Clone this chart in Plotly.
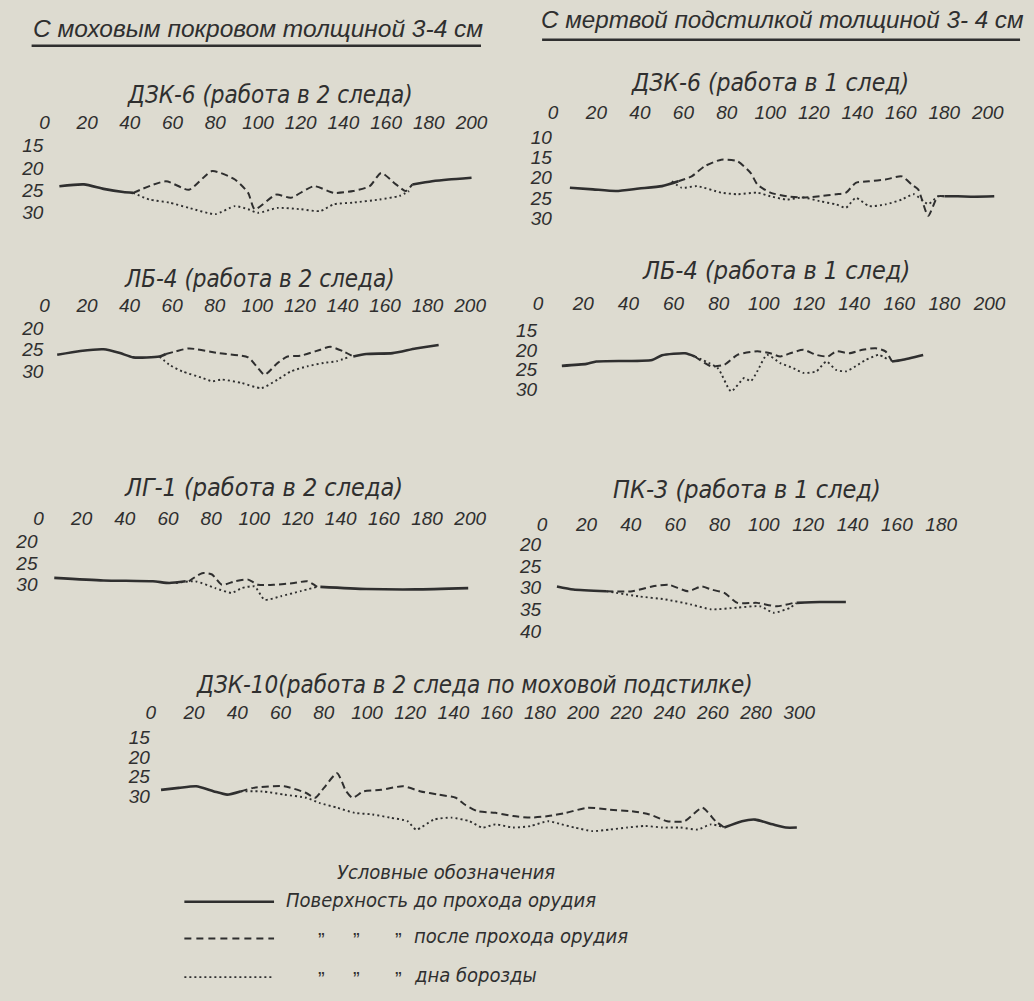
import plotly.graph_objects as go

W, H = 1034, 1001
INK = "#2f2f2f"
PAPER = "#dddbd0"
NARROW = "Liberation Sans Narrow, DejaVu Sans Condensed, Arial Narrow, sans-serif"
REG = "Liberation Sans, Arial, sans-serif"

# ---------------- data (distance, cm depth) ----------------
# Panel A: ДЗК-6, 2 следа, моховой покров
a_solid1_x = [7, 18.5, 27.7, 36.9, 41.5]
a_solid1_y = [24.1, 23.7, 24.7, 25.4, 25.6]
a_dash_x = [41.5, 56.9, 67.7, 78.5, 89.2, 95.4, 98.5, 108.5, 115.4, 126.2, 135.4, 144.6, 152.3, 157.7, 164.6, 169.2, 172.3]
a_dash_y = [25.6, 23.0, 24.9, 20.7, 22.6, 25.6, 29.3, 26.0, 26.7, 24.1, 25.6, 25.2, 24.1, 21.1, 23.7, 25.2, 23.7]
a_dot_x = [41.5, 49.2, 58.5, 67.7, 80, 89.2, 95.4, 100, 109.2, 120, 129.2, 135.4, 144.6, 156.9, 166.2, 170.8]
a_dot_y = [25.6, 27.1, 27.8, 29.0, 30.4, 28.6, 29.3, 30.1, 29.0, 29.3, 29.7, 28.2, 27.8, 27.1, 26.3, 25.2]
a_solid2_x = [172.3, 181.5, 189.2, 200]
a_solid2_y = [23.7, 23.0, 22.6, 22.2]

# Panel B: ДЗК-6, 1 след, мертвая подстилка
b_solid1_x = [7.8, 18.4, 29.0, 39.6, 50.2, 57.7]
b_solid1_y = [22.5, 22.9, 23.3, 22.7, 22.1, 20.9]
b_dash_x = [57.7, 63.8, 69.8, 77.4, 84.9, 91.0, 94.0, 100.0, 107.6, 115.1, 122.7, 130.2, 134.8, 139.3, 145.4, 152.9, 160.5, 165.0, 168.0, 172.6, 177.1, 180.1]
b_dash_y = [20.9, 19.7, 17.2, 15.6, 16.0, 18.9, 21.7, 23.7, 24.6, 24.9, 24.6, 24.1, 23.7, 21.3, 20.9, 20.5, 19.7, 21.7, 22.9, 29.4, 24.6, 24.6]
b_dot_x = [54.7, 59.2, 66.3, 77.4, 84.9, 94.0, 100.0, 107.6, 115.1, 122.7, 130.2, 134.8, 139.3, 145.4, 152.9, 160.5, 166.0, 172.6, 177.1, 180.1]
b_dot_y = [20.9, 22.5, 22.1, 23.7, 24.1, 23.7, 24.6, 25.4, 24.9, 25.8, 26.6, 27.4, 25.0, 27.0, 26.6, 25.4, 24.1, 26.5, 24.6, 24.6]
b_solid2_x = [180.1, 186.2, 193.7, 203]
b_solid2_y = [24.6, 24.6, 24.7, 24.6]

# Panel C: ЛБ-4, 2 следа
c_solid1_x = [6.0, 16.9, 27.8, 35.5, 41.7, 54.0, 57.1]
c_solid1_y = [26.2, 25.3, 24.9, 25.8, 26.8, 26.6, 26.0]
c_dash_x = [57.1, 61.7, 67.9, 81.8, 95.7, 100.3, 103.4, 109.6, 114.2, 120.4, 129.6, 134.3, 140.4, 145.1]
c_dash_y = [26.0, 25.4, 24.7, 25.8, 26.8, 29.3, 30.9, 28.1, 26.6, 26.4, 25.0, 24.3, 25.4, 26.6]
c_dot_x = [54.0, 58.6, 64.8, 74.1, 78.7, 83.3, 92.6, 101.9, 109.6, 115.7, 123.5, 131.2, 137.3, 143.5]
c_dot_y = [26.6, 28.5, 30.1, 31.6, 32.4, 32.0, 32.8, 34.0, 32.0, 30.1, 28.9, 28.1, 27.7, 26.6]
c_solid2_x = [145.1, 151.2, 163.6, 174.4, 185.2]
c_solid2_y = [26.6, 26.0, 25.8, 24.7, 23.9]

# Panel D: ЛБ-4, 1 след
d_solid1_x = [10.5, 21.4, 25.8, 50.5, 54.9, 65.1, 69.4]
d_solid1_y = [24.0, 23.5, 22.9, 22.5, 21.3, 20.8, 21.6]
d_dash_x = [69.4, 76.7, 82.5, 88.3, 97.1, 102.9, 107.3, 111.7, 117.5, 123.3, 128.4, 132.0, 137.9, 143.7, 149.5, 153.9, 156.8]
d_dash_y = [21.6, 24.1, 23.7, 21.2, 20.3, 20.8, 21.6, 20.8, 19.9, 21.2, 21.6, 20.3, 20.8, 19.9, 19.5, 20.3, 22.9]
d_dot_x = [69.4, 79.6, 85.5, 91.3, 94.2, 97.1, 101.4, 107.3, 113.1, 117.5, 123.3, 127.7, 132.0, 136.4, 140.7, 145.1, 150.9, 155.3]
d_dot_y = [21.6, 24.6, 30.5, 27.1, 27.9, 25.4, 21.2, 23.3, 24.6, 25.8, 25.4, 22.9, 25.0, 25.4, 24.1, 22.5, 21.2, 22.5]
d_solid2_x = [156.8, 161.1, 170.6]
d_solid2_y = [22.9, 22.5, 21.2]

# Panel E: ЛГ-1, 2 следа
e_solid1_x = [7.3, 30.1, 53.0, 60.6, 68.2]
e_solid1_y = [28.5, 29.1, 29.3, 29.7, 29.3]
e_dash_x = [69.7, 75.8, 80.4, 84.9, 91.0, 97.1, 101.7, 109.3, 118.4, 124.5, 129.1]
e_dash_y = [29.3, 27.4, 27.7, 30.1, 29.3, 28.9, 30.1, 30.1, 29.7, 29.3, 30.6]
e_dot_x = [63.6, 72.7, 81.9, 89.5, 94.1, 100.1, 104.7, 112.3, 121.5, 129.1]
e_dot_y = [29.7, 29.3, 30.9, 32.0, 30.9, 30.5, 33.6, 32.8, 31.6, 30.6]
e_solid2_x = [130.6, 151.9, 174.7, 199.1]
e_solid2_y = [30.6, 31.1, 31.2, 30.9]

# Panel F: ПК-3, 1 след
f_solid1_x = [6.7, 14.1, 28.9]
f_solid1_y = [29.7, 30.4, 30.8]
f_dash_x = [28.9, 40.7, 49.6, 57.0, 65.9, 71.9, 76.3, 82.2, 88.1, 97.0, 105.9, 113.3]
f_dash_y = [30.8, 30.8, 29.7, 29.3, 30.8, 29.7, 30.4, 31.2, 33.5, 33.5, 34.3, 33.5]
f_dot_x = [28.9, 43.7, 55.6, 67.4, 76.3, 88.1, 98.5, 104.4, 111.9, 114.8]
f_dot_y = [30.8, 32.0, 32.7, 33.9, 35.0, 34.6, 34.3, 35.8, 34.6, 33.5]
f_solid2_x = [114.8, 125.2, 137.0]
f_solid2_y = [33.5, 33.3, 33.3]

# Panel G: ДЗК-10, 2 следа по моховой подстилке
g_solid1_x = [4.7, 12.9, 21.0, 29.2, 35.3, 41.4]
g_solid1_y = [28.3, 27.8, 27.4, 28.7, 29.5, 28.7]
g_dash_x = [41.4, 47.5, 61.7, 71.9, 76.0, 80.1, 86.2, 90.2, 93.3, 98.4, 106.5, 116.7, 124.9, 133.0, 141.1, 145.2, 151.3, 159.5, 167.6, 175.8, 183.9, 192.0, 202.2, 212.4, 222.6, 230.7, 238.9, 247.0, 255.2, 261.3, 265.3]
g_dash_y = [28.7, 27.8, 27.4, 29.1, 30.3, 27.8, 24.1, 28.5, 30.3, 28.7, 28.3, 27.4, 28.7, 29.5, 30.3, 32.0, 33.7, 34.1, 34.9, 35.3, 34.9, 34.1, 32.8, 33.3, 33.7, 34.5, 36.2, 36.2, 32.8, 36.2, 37.8]
g_dot_x = [41.4, 51.6, 61.7, 71.9, 78.0, 86.2, 94.3, 102.5, 110.6, 118.7, 122.8, 131.0, 139.1, 147.3, 153.4, 159.5, 167.6, 175.8, 183.9, 190.0, 196.1, 204.3, 212.4, 220.5, 228.7, 236.8, 245.0, 253.1, 259.2, 265.3]
g_dot_y = [28.7, 28.7, 29.5, 30.3, 31.6, 32.8, 34.1, 34.5, 35.3, 36.2, 38.3, 35.8, 35.3, 36.2, 37.8, 37.0, 37.8, 37.4, 36.2, 37.0, 37.8, 38.7, 38.3, 37.8, 37.4, 37.8, 37.8, 38.3, 37.0, 37.8]
g_solid2_x = [265.3, 273.5, 279.6, 287.7, 293.8, 298.9]
g_solid2_y = [37.8, 36.2, 35.8, 37.0, 37.8, 37.8]

ticks_200 = [0, 20, 40, 60, 80, 100, 120, 140, 160, 180, 200]
ticks_180 = [0, 20, 40, 60, 80, 100, 120, 140, 160, 180]
ticks_300 = [0, 20, 40, 60, 80, 100, 120, 140, 160, 180, 200, 220, 240, 260, 280, 300]

titles = {
    "A": "ДЗК-6 (работа в 2 следа)",
    "B": "ДЗК-6 (работа в 1 след)",
    "C": "ЛБ-4 (работа в 2 следа)",
    "D": "ЛБ-4 (работа в 1 след)",
    "E": "ЛГ-1 (работа в 2 следа)",
    "F": "ПК-3 (работа в 1 след)",
    "G": "ДЗК-10(работа в 2 следа по моховой подстилке)",
}

# panel geometry: px = x0 + sx*x ; py = y0 + sy*(y - yref)
panels = [
    dict(k="A", x0=40, sx=2.167, y0=146, sy=4.47, yref=15, xr=(0, 204), yr=(32, 12.3),
         xt=ticks_200, yt=[15, 20, 25, 30], title_xy=(269, 95), tsize=24,
         series=[(a_solid1_x, a_solid1_y, "s"), (a_dash_x, a_dash_y, "d"), (a_dot_x, a_dot_y, "o"), (a_solid2_x, a_solid2_y, "s")]),
    dict(k="B", x0=556, sx=2.206, y0=137, sy=4.1, yref=10, xr=(0, 205), yr=(31, 6.8),
         xt=ticks_200, yt=[10, 15, 20, 25, 30], title_xy=(776, 82), tsize=24.5,
         series=[(b_solid1_x, b_solid1_y, "s"), (b_dash_x, b_dash_y, "d"), (b_dot_x, b_dot_y, "o"), (b_solid2_x, b_solid2_y, "s")]),
    dict(k="C", x0=40, sx=2.16, y0=330, sy=4.3, yref=20, xr=(0, 204), yr=(35, 17.4),
         xt=ticks_200, yt=[20, 25, 30], title_xy=(258, 280), tsize=24,
         series=[(c_solid1_x, c_solid1_y, "s"), (c_dash_x, c_dash_y, "d"), (c_dot_x, c_dot_y, "o"), (c_solid2_x, c_solid2_y, "s")]),
    dict(k="D", x0=541, sx=2.29, y0=352, sy=3.95, yref=20, xr=(0, 204), yr=(32, 10.9),
         xt=ticks_200, yt=[15, 20, 25, 30], title_xy=(782, 272), tsize=25,
         series=[(d_solid1_x, d_solid1_y, "s"), (d_dash_x, d_dash_y, "d"), (d_dot_x, d_dot_y, "o"), (d_solid2_x, d_solid2_y, "s")]),
    dict(k="E", x0=34, sx=2.19, y0=545, sy=4.3, yref=20, xr=(0, 204), yr=(34, 17.2),
         xt=ticks_200, yt=[20, 25, 30], title_xy=(262, 490), tsize=25,
         series=[(e_solid1_x, e_solid1_y, "s"), (e_dash_x, e_dash_y, "d"), (e_dot_x, e_dot_y, "o"), (e_solid2_x, e_solid2_y, "s")]),
    dict(k="F", x0=545, sx=2.25, y0=548, sy=4.35, yref=20, xr=(0, 184), yr=(41, 17.9),
         xt=ticks_180, yt=[20, 25, 30, 35, 40], title_xy=(753, 492), tsize=25,
         series=[(f_solid1_x, f_solid1_y, "s"), (f_dash_x, f_dash_y, "d"), (f_dot_x, f_dot_y, "o"), (f_solid2_x, f_solid2_y, "s")]),
    dict(k="G", x0=148, sx=2.193, y0=742, sy=4.0, yref=15, xr=(0, 303), yr=(40, 11.75),
         xt=ticks_300, yt=[15, 20, 25, 30], title_xy=(476, 690), tsize=24,
         series=[(g_solid1_x, g_solid1_y, "s"), (g_dash_x, g_dash_y, "d"), (g_dot_x, g_dot_y, "o"), (g_solid2_x, g_solid2_y, "s")]),
]

STYLE = {
    "s": dict(color=INK, width=2.6, dash="solid"),
    "d": dict(color=INK, width=2.0, dash="7px,4px"),
    "o": dict(color=INK, width=1.9, dash="2px,3px"),
}

fig = go.Figure()
layout = {}
annotations = []
tickfont = dict(family=REG, size=19, color=INK, style="italic")

for i, p in enumerate(panels, start=1):
    xa = "x" if i == 1 else f"x{i}"
    ya = "y" if i == 1 else f"y{i}"
    xmin, xmax = p["xr"]
    ybot, ytop = p["yr"]
    px_l = p["x0"] + p["sx"] * xmin
    px_r = p["x0"] + p["sx"] * xmax
    py_b = p["y0"] + p["sy"] * (ybot - p["yref"])
    py_t = p["y0"] + p["sy"] * (ytop - p["yref"])
    xkey = "xaxis" if i == 1 else f"xaxis{i}"
    ykey = "yaxis" if i == 1 else f"yaxis{i}"
    layout[xkey] = dict(domain=[px_l / W, px_r / W], range=[xmin, xmax], anchor=ya, side="top",
                        tickvals=p["xt"], ticktext=[str(v) for v in p["xt"]], tickfont=tickfont,
                        showgrid=False, zeroline=False, showline=False, ticks="", fixedrange=True)
    layout[ykey] = dict(domain=[1 - py_b / H, 1 - py_t / H], range=[ybot, ytop], anchor=xa,
                        tickvals=p["yt"], ticktext=[str(v) for v in p["yt"]], tickfont=tickfont,
                        showgrid=False, zeroline=False, showline=False, ticks="", fixedrange=True)
    for xs, ys, st in p["series"]:
        fig.add_trace(go.Scatter(x=xs, y=ys, mode="lines", xaxis=xa, yaxis=ya,
                                 line=dict(shape="spline", smoothing=0.6, **STYLE[st]),
                                 showlegend=False, hoverinfo="skip", cliponaxis=False))
    tx, ty = p["title_xy"]
    annotations.append(dict(text=titles[p["k"]], x=tx / W, y=1 - ty / H, xref="paper", yref="paper",
                            showarrow=False, xanchor="center", yanchor="middle",
                            font=dict(family=NARROW, size=p["tsize"], color=INK, style="italic")))

# section headers
annotations.append(dict(text="С моховым покровом толщиной 3-4 см", x=257 / W, y=1 - 28 / H, xref="paper", yref="paper",
                        showarrow=False, xanchor="center", yanchor="middle",
                        font=dict(family=REG, size=24.5, color=INK, style="italic")))
annotations.append(dict(text="С мертвой подстилкой толщиной 3- 4 см", x=789 / W, y=1 - 19 / H, xref="paper", yref="paper",
                        showarrow=False, xanchor="center", yanchor="middle",
                        font=dict(family=REG, size=24.2, color=INK, style="italic")))
shapes = [
    dict(type="line", xref="paper", yref="paper", x0=27 / W, x1=483 / W, y0=1 - 45 / H, y1=1 - 45 / H,
         line=dict(color=INK, width=2.5)),
    dict(type="line", xref="paper", yref="paper", x0=545 / W, x1=1030 / W, y0=1 - 39 / H, y1=1 - 39 / H,
         line=dict(color=INK, width=2.5)),
]

# legend (key)
legend_font = dict(family=NARROW, size=20, color=INK, style="italic")
annotations.append(dict(text="Условные обозначения", x=447 / W, y=1 - 878 / H, xref="paper", yref="paper",
                        showarrow=False, xanchor="center", yanchor="middle", font=legend_font))
key_rows = [
    (908, "solid", 2.6, "Поверхность до прохода орудия", 283, False),
    (945, "7px,5px", 2.0, "после прохода орудия", 413, True),
    (984, "2px,3px", 1.9, "дна борозды", 413, True),
]
for y, dash, w, txt, tx, ditto in key_rows:
    shapes.append(dict(type="line", xref="paper", yref="paper", x0=182 / W, x1=273 / W, y0=1 - y / H, y1=1 - y / H,
                       line=dict(color=INK, width=w, dash=dash)))
    annotations.append(dict(text=txt, x=tx / W, y=1 - (y - 2) / H, xref="paper", yref="paper",
                            showarrow=False, xanchor="left", yanchor="middle", font=legend_font))
    if ditto:
        for qx in (321, 357, 399):
            annotations.append(dict(text="\u201d", x=qx / W, y=1 - (y + 2) / H, xref="paper", yref="paper",
                                    showarrow=False, xanchor="center", yanchor="middle",
                                    font=dict(family=REG, size=20, color=INK)))

fig.update_layout(**layout)
fig.update_layout(width=W, height=H, margin=dict(l=0, r=0, t=0, b=0), autosize=False,
                  paper_bgcolor=PAPER, plot_bgcolor="rgba(0,0,0,0)",
                  annotations=annotations, shapes=shapes, showlegend=False)
fig.write_html("out.html", config={"displayModeBar": False},
               post_script="document.body.style.margin='0';document.body.style.background='%s';" % PAPER)
